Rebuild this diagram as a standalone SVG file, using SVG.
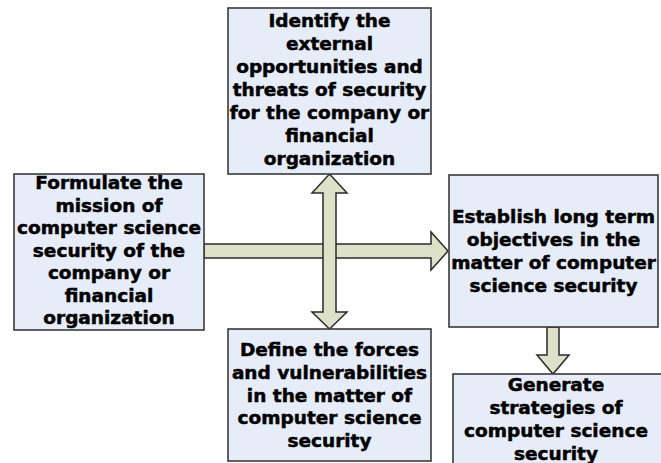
<svg xmlns="http://www.w3.org/2000/svg" width="661" height="463" viewBox="0 0 661 463">
<style>
.box{fill:#e6ecf8;stroke:#3a3a3a;stroke-width:1.6}
.arr{fill:#dde1c8;stroke:#2a2a2a;stroke-width:1.5;stroke-linejoin:miter}
text{font-family:"DejaVu Sans",Verdana,sans-serif;font-weight:bold;font-size:18.5px;fill:#000;stroke:#000;stroke-width:0.5;text-anchor:middle}
</style>
<rect width="661" height="463" fill="#fff"/>
<g id="connectors">
<path class="arr" d="M204,244 L431,244 L431,232 L448,251 L431,270 L431,258 L204,258 Z"/>
<path class="arr" d="M329.5,174 L347,193 L336,193 L336,312 L347,312 L329.5,329 L312,312 L323,312 L323,193 L312,193 Z"/>
<path class="arr" d="M547,327 L559,327 L559,355 L569,355 L553,374 L537,355 L547,355 Z"/>
</g>
<g id="top">
<rect class="box" x="228" y="8" width="203" height="166"/>
<text x="329.5" y="27">Identify the</text>
<text x="329.5" y="50">external</text>
<text x="329.5" y="73">opportunities and</text>
<text x="329.5" y="96">threats of security</text>
<text x="329.5" y="119">for the company or</text>
<text x="329.5" y="142">financial</text>
<text x="329.5" y="165">organization</text>
</g>
<g id="left">
<rect class="box" x="14" y="174" width="190" height="156"/>
<text x="109" y="189">Formulate the</text>
<text x="109" y="211.5">mission of</text>
<text x="109" y="234">computer science</text>
<text x="109" y="256.5">security of the</text>
<text x="109" y="279">company or</text>
<text x="109" y="301.5">financial</text>
<text x="109" y="324">organization</text>
</g>
<g id="right">
<rect class="box" x="449" y="175" width="209" height="152"/>
<text x="553.5" y="223">Establish long term</text>
<text x="553.5" y="246">objectives in the</text>
<text x="553.5" y="269">matter of computer</text>
<text x="553.5" y="292">science security</text>
</g>
<g id="bottom">
<rect class="box" x="228" y="329" width="203" height="132"/>
<text x="329.5" y="356">Define the forces</text>
<text x="329.5" y="379">and vulnerabilities</text>
<text x="329.5" y="402">in the matter of</text>
<text x="329.5" y="424">computer science</text>
<text x="329.5" y="447">security</text>
</g>
<g id="strategies">
<rect class="box" x="453" y="374" width="210" height="100"/>
<text x="556" y="391">Generate</text>
<text x="556" y="414">strategies of</text>
<text x="556" y="437">computer science</text>
<text x="556" y="460">security</text>
</g>
</svg>
